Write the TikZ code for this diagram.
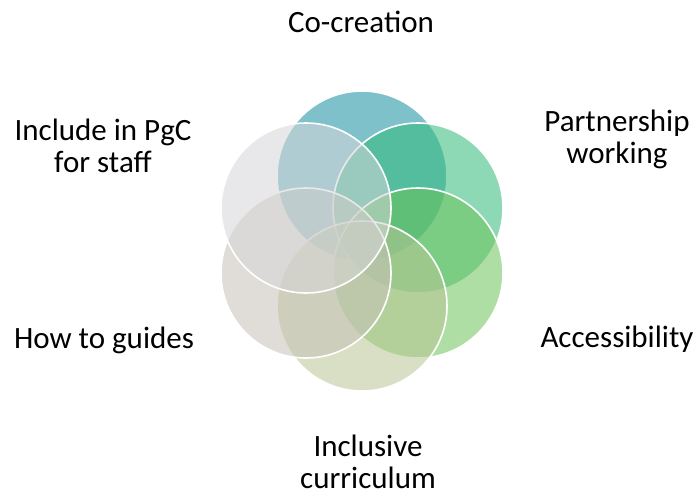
\documentclass[tikz,border=0pt]{standalone}
\usepackage{fontspec}
\setmainfont{Carlito}
\definecolor{cTop}{RGB}{20,142,160}
\definecolor{cUR}{RGB}{48,186,120}
\definecolor{cLR}{RGB}{108,195,90}
\definecolor{cBot}{RGB}{184,197,148}
\definecolor{cLL}{RGB}{199,193,184}
\definecolor{cUL}{RGB}{214,214,216}
\tikzset{
  petal/.style={circle, minimum size=170pt, inner sep=0pt, draw=white, line width=1.6pt, fill opacity=0.55},
  label/.style={align=center, font=\fontsize{31}{32}\selectfont, text=black}
}
\begin{document}
\begin{tikzpicture}[x=1pt,y=-1pt]
\useasboundingbox (0,0) rectangle (700,496);
% six overlapping petals around the centre (362,240)
\node[petal, fill=cTop] (top) at (362,176) {};
\node[petal, fill=cUR] (ur) at (418,208) {};
\node[petal, fill=cLR] (lr) at (418,273) {};
\node[petal, fill=cBot] (bot) at (362,306) {};
\node[petal, fill=cLL] (ll) at (306,273) {};
\node[petal, fill=cUL] (ul) at (306,208) {};
% labels
\node[label] (tCo) at (361,22) {Co-creation};
\node[label] (tPart) at (617,139) {Partnership\\working};
\node[label] (tAcc) at (617,339) {Accessibility};
\node[label] (tIncl) at (368,462) {Inclusive\\curriculum};
\node[label] (tHow) at (104,340) {How to guides};
\node[label] (tPgC) at (103,146) {Include in PgC\\for staff};
\end{tikzpicture}
\end{document}
